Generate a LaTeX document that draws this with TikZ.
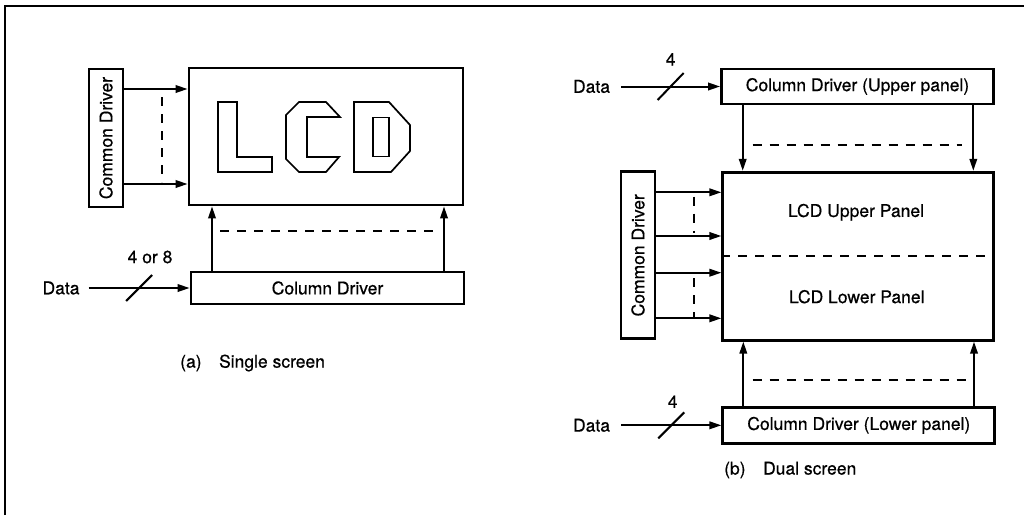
\documentclass[tikz,border=0pt]{standalone}
\usepackage{fontspec}
\setmainfont{TeX Gyre Heros}[FakeBold=0.6]
\usetikzlibrary{arrows.meta,calc}
\begin{document}
\begin{tikzpicture}[x=1pt,y=-1pt,
  font=\fontsize{17.5}{20}\selectfont,
  box/.style={draw, line width=2.8pt, inner sep=0pt},
  conn/.style={line width=2pt},
  arr/.style={conn, -{Triangle[length=12pt,width=7.5pt]}},
  dsh/.style={line width=2pt, dash pattern=on 9pt off 8pt},
  lbl/.style={inner sep=0pt},
  glyph/.style={line width=1.7pt, line join=miter}
]
\useasboundingbox (0,0) rectangle (1024,515);
% frame
\draw[line width=2.5pt] (5,515) -- (5,6) -- (1024,6);

% ---------- (a) single screen ----------
\node[box, minimum width=34pt, minimum height=138pt] (cdA) at (106,138) {};
\node[lbl, rotate=90] at (cdA.center) {Common Driver};
\node[box, minimum width=274pt, minimum height=137pt] (lcdA) at (326,136.5) {};
\node[box, minimum width=273pt, minimum height=32pt] (colA) at (327.5,288) {Column Driver};
\node[lbl] (dataA) at (61,288) {Data};
\draw[arr] ([xshift=9pt]dataA.east) -- coordinate[pos=0.5] (sA) (colA.west);
\draw[conn] ($(sA)+(-13,13)$) -- ($(sA)+(13,-13)$);
\node[lbl] (nA) at (150,257) {4 or 8};

\draw[arr] (cdA.east |- 0,89) -- (lcdA.west |- 0,89);
\draw[arr] (cdA.east |- 0,184) -- (lcdA.west |- 0,184);
\draw[dsh] (162,97) -- (162,182);
\draw[arr] (colA.north -| 212,0) -- (lcdA.south -| 212,0);
\draw[arr] (colA.north -| 444,0) -- (lcdA.south -| 444,0);
\draw[dsh] (220,231) -- (438,231);

% LCD outline letters
\draw[glyph] (218,102) -- (237,102) -- (237,157) -- (272,157) -- (272,172) -- (218,172) -- cycle;
\draw[glyph] (299,102) -- (326,102) -- (340,117) -- (307,117) -- (307,157) -- (339,157) -- (326,172) -- (299,172) -- (286,159) -- (286,115) -- cycle;
\draw[glyph] (354,102) -- (389,102) -- (410,125) -- (410,151) -- (391,172) -- (354,172) -- cycle;
\draw[glyph] (373,117.5) rectangle (389,156.5);

\node[lbl, anchor=west] (capA) at (180,363) {(a)\quad Single screen};

% ---------- (b) dual screen ----------
\node[box, minimum width=272pt, minimum height=35pt] (colU) at (857.5,86.5) {Column Driver (Upper panel)};
\node[box, minimum width=271pt, minimum height=168pt] (lcdB) at (858.3,256.2) {};
\node[box, minimum width=34pt, minimum height=167pt] (cdB) at (638,255.3) {};
\node[lbl, rotate=90] at (cdB.center) {Common Driver};
\node[box, minimum width=272pt, minimum height=36pt] (colL) at (858.8,425.3) {Column Driver (Lower panel)};

\node[lbl] (dataU) at (591.5,86.5) {Data};
\draw[arr] ([xshift=11pt]dataU.east) -- coordinate[pos=0.5] (sU) (colU.west);
\draw[conn] ($(sU)+(-13,13.5)$) -- ($(sU)+(13,-13.5)$);
\node[lbl] (nU) at (670.7,59.3) {4};

\draw[arr] (colU.south -| 742.7,0) -- (lcdB.north -| 742.7,0);
\draw[arr] (colU.south -| 973.3,0) -- (lcdB.north -| 973.3,0);
\draw[dsh] (752.7,145) -- (961.7,145);

\draw[dsh] (lcdB.west) -- (lcdB.east);
\node[lbl] (up) at (856,212.3) {LCD Upper Panel};
\node[lbl] (lo) at (856.7,296.7) {LCD Lower Panel};

\foreach \yy in {192.3,236,272.7,318.3}
  \draw[arr] (cdB.east |- 0,\yy) -- (lcdB.west |- 0,\yy);
\draw[dsh] (694,196.7) -- (694,233.3);
\draw[dsh] (694,278.3) -- (694,316.7);

\draw[arr] (colL.north -| 743.3,0) -- (lcdB.south -| 743.3,0);
\draw[arr] (colL.north -| 974,0) -- (lcdB.south -| 974,0);
\draw[dsh] (752.7,380) -- (973,380);

\node[lbl] (dataL) at (591.5,425.3) {Data};
\draw[arr] ([xshift=11pt]dataL.east) -- coordinate[pos=0.5] (sL) (colL.west);
\draw[conn] ($(sL)+(-13,13)$) -- ($(sL)+(13,-13)$);
\node[lbl] (nL) at (672.7,401.7) {4};

\node[lbl, anchor=west] (capB) at (724,470) {(b)\quad Dual screen};
\end{tikzpicture}
\end{document}
